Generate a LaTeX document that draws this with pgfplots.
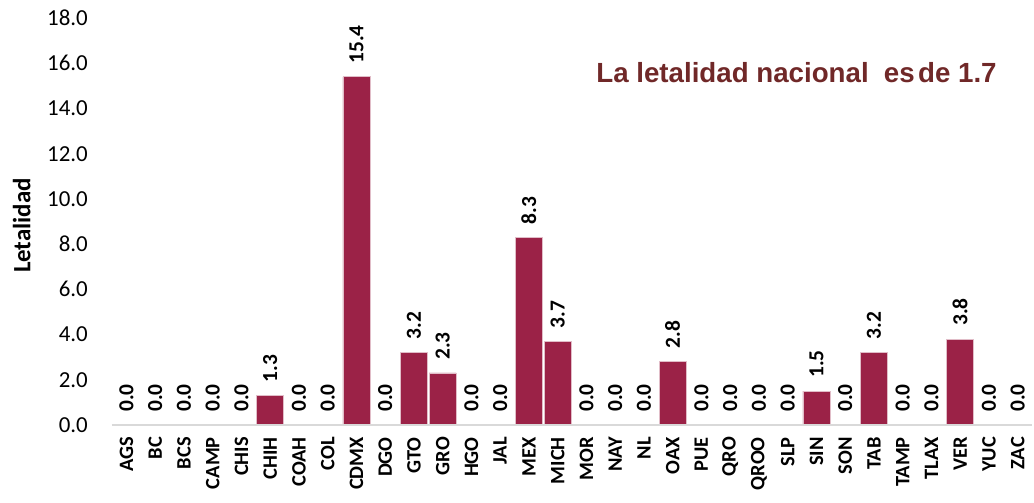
\documentclass[border=0pt]{standalone}
\usepackage{fontspec}
\setmainfont{Carlito}
\newfontfamily\arialb{Liberation Sans}
\usepackage{pgfplots}
\pgfplotsset{compat=1.18}
\definecolor{barc}{RGB}{155,34,71}
\definecolor{titc}{RGB}{112,40,40}
\definecolor{axgray}{RGB}{217,217,217}
\pgfplotstableread{
x val
0 0
1 0
2 0
3 0
4 0
5 1.3
6 0
7 0
8 15.4
9 0
10 3.2
11 2.3
12 0
13 0
14 8.3
15 3.7
16 0
17 0
18 0
19 2.8
20 0
21 0
22 0
23 0
24 1.5
25 0
26 3.2
27 0
28 0
29 3.8
30 0
31 0
}\datatable
\begin{document}
\begin{tikzpicture}
\begin{axis}[
  at={(0,0)}, anchor=south west,
  scale only axis, width=920bp, height=407bp,
  ymin=0, ymax=18, xmin=-0.5, xmax=31.5,
  ytick={0,2,...,18},
  xtick=data,
  xticklabels={AGS,BC,BCS,CAMP,CHIS,CHIH,COAH,COL,CDMX,DGO,GTO,GRO,HGO,JAL,MEX,MICH,MOR,NAY,NL,OAX,PUE,QRO,QROO,SLP,SIN,SON,TAB,TAMP,TLAX,VER,YUC,ZAC},
  axis line style={draw=none},
  major tick length=0pt,
  /pgf/number format/.cd, fixed, fixed zerofill, precision=1, assume math mode=true,
  /pgfplots/.cd,
  yticklabel style={font=\fontsize{23}{23}\selectfont, anchor=east, inner xsep=0pt, xshift=-24bp},
  xticklabel style={font=\bfseries\fontsize{20.5}{20.5}\selectfont, rotate=90, anchor=east, inner xsep=12bp, inner ysep=0pt},
  ylabel={\bfseries Letalidad},
  ylabel style={font=\fontsize{25}{25}\selectfont, at={(axis description cs:-0.098,0.49)}, anchor=center},
  ybar, bar width=27bp,
  nodes near coords,
  every node near coord/.append style={font=\bfseries\fontsize{21.5}{21.5}\selectfont, rotate=90, anchor=west, inner xsep=13bp, inner ysep=0pt},
  clip=false,
]
\addplot[fill=barc, draw=barc!30!white, line width=0.6pt] table[x=x, y=val] {\datatable};
\draw[axgray, line width=1.2pt] (axis cs:-0.5,0) -- (axis cs:31.5,0);
\node[font=\arialb\bfseries\fontsize{27.8}{27.8}\selectfont, text=titc] at (rel axis cs:0.744,0.865) {La letalidad nacional\hspace{0.55em}es\hspace{0.12em}de 1.7};
\end{axis}
\path[use as bounding box] (-112bp,-67bp) rectangle (922bp,425bp);
\end{tikzpicture}
\end{document}
